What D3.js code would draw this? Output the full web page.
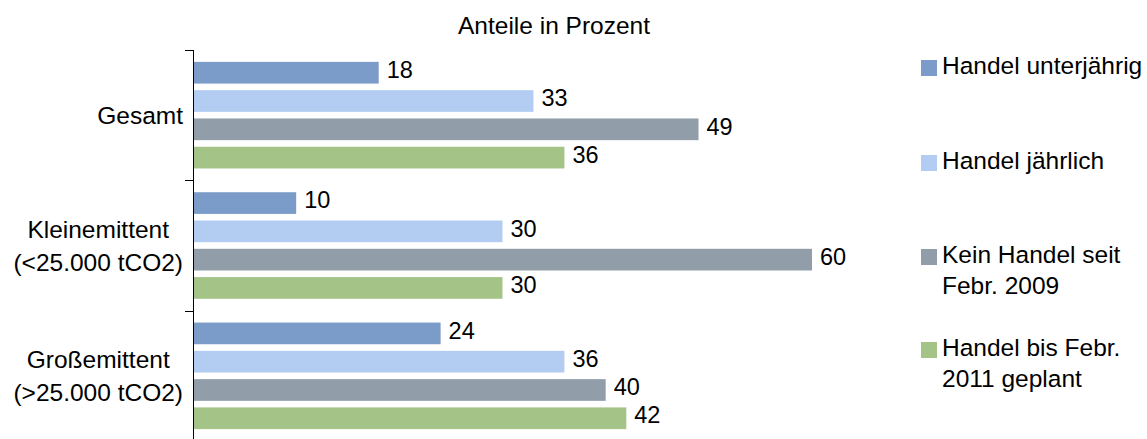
<!DOCTYPE html>
<html><head><meta charset="utf-8">
<script src="https://cdn.jsdelivr.net/npm/d3@7"></script>
<style>body{margin:0;background:#fff}svg{display:block;font-family:"Liberation Sans",Arial,sans-serif}</style>
</head><body><div id="chart"></div>
<script>
const categories = [["Gesamt"], ["Kleinemittent", "(<25.000 tCO2)"], ["Großemittent", "(>25.000 tCO2)"]];
const seriesNames = [["Handel unterjährig"], ["Handel jährlich"], ["Kein Handel seit", "Febr. 2009"], ["Handel bis Febr.", "2011 geplant"]];
const unterjaehrig = [18, 10, 24];
const jaehrlich = [33, 30, 36];
const keinHandel = [49, 60, 40];
const bisFebr2011 = [36, 30, 42];
const colors = ["#7B9CC8", "#B3CDF2", "#919EAA", "#A3C486"];
const title = "Anteile in Prozent";

const series = [unterjaehrig, jaehrlich, keinHandel, bisFebr2011];
const W = 1147, H = 439;
const FS = 24.5;
const svg = d3.select("#chart").append("svg").attr("width", W).attr("height", H);

const x0 = 193;
const x = d3.scaleLinear().domain([0, 60]).range([x0, 812]);
const catIdx = categories.map((d, i) => i);
const y = d3.scaleBand().domain(catIdx).range([50, 441]).paddingInner(0).paddingOuter(0);
const yi = d3.scaleBand().domain(d3.range(4)).range([0, y.bandwidth()]).paddingInner(0.233).paddingOuter(0.42);

svg.append("text").attr("x", 554).attr("y", 25).attr("dy", "0.35em").attr("text-anchor", "middle")
  .attr("font-size", FS).attr("fill", "#000").text(title);

const g = svg.append("g");
catIdx.forEach(ci => {
  series.forEach((s, si) => {
    const yy = y(ci) + yi(si);
    g.append("rect").attr("x", x(0)).attr("y", yy).attr("width", x(s[ci]) - x(0))
      .attr("height", yi.bandwidth()).attr("fill", colors[si]);
    g.append("text").attr("x", x(s[ci]) + 8).attr("y", yy + yi.bandwidth() / 2 - 3)
      .attr("dy", "0.35em").attr("font-size", FS - 1).attr("fill", "#000").text(s[ci]);
  });
});

// axis
const axis = svg.append("g");
axis.append("line").attr("x1", x0 + 0.5).attr("x2", x0 + 0.5).attr("y1", 50).attr("y2", 441)
  .attr("stroke", "#000").attr("stroke-width", 1);
[0, 1, 2, 3].forEach(k => {
  const ty = Math.round(50 + k * y.step()) + 0.5;
  axis.append("line").attr("x1", x0 - 8).attr("x2", x0 + 0.5).attr("y1", ty).attr("y2", ty)
    .attr("stroke", "#000");
});

// category labels
const rightEdge = 183;
catIdx.forEach(ci => {
  const lines = categories[ci];
  const t = svg.append("text").attr("font-size", FS).attr("fill", "#000").attr("text-anchor", "middle");
  const lh = 33;
  const cy = y(ci) + y.bandwidth() / 2;
  const spans = lines.map((l, li) => t.append("tspan").attr("y", cy + (li - (lines.length - 1) / 2) * lh).attr("dy", "0.35em").text(l));
  const maxW = d3.max(spans, s => s.node().getComputedTextLength());
  spans.forEach(s => s.attr("x", rightEdge - maxW / 2));
});

// legend
const legY = [60, 155, 249, 342];
seriesNames.forEach((names, si) => {
  svg.append("rect").attr("x", 921).attr("y", legY[si]).attr("width", 16).attr("height", 16).attr("fill", colors[si]);
  const t = svg.append("text").attr("font-size", FS).attr("fill", "#000");
  names.forEach((n, li) => t.append("tspan").attr("x", 942).attr("y", legY[si] + 5 + li * 31).attr("dy", "0.35em").text(n));
});
</script></body></html>
